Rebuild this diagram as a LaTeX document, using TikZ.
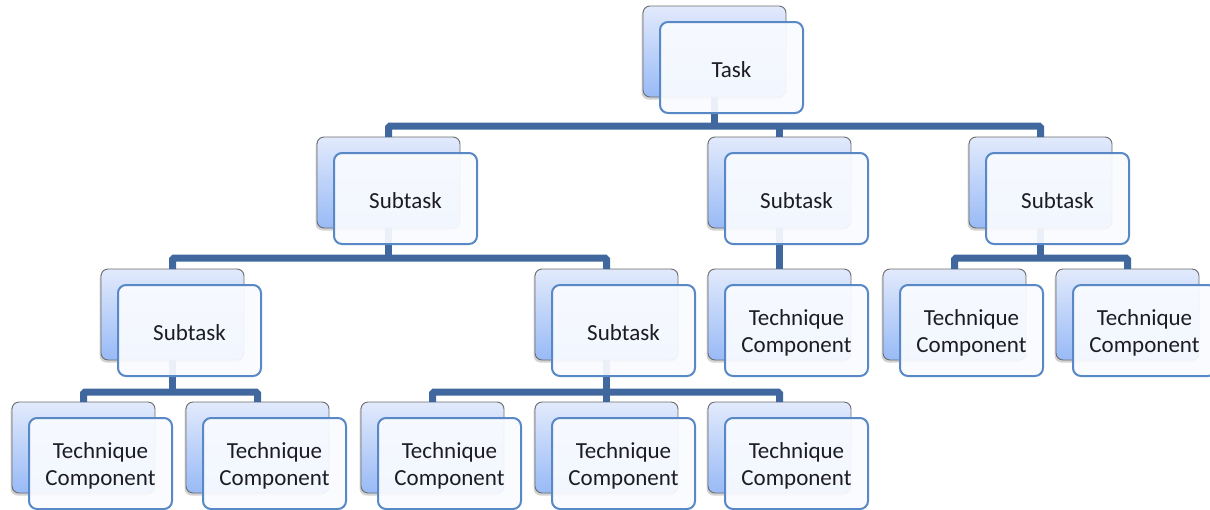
\documentclass[tikz,border=0pt]{standalone}
\usepackage{fontspec}
\setmainfont{Carlito}
\usetikzlibrary{shadows}

\definecolor{barblue}{RGB}{64,104,158}
\definecolor{frontline}{RGB}{88,136,198}
\definecolor{backline}{RGB}{108,108,112}
\definecolor{backtop}{RGB}{226,234,252}
\definecolor{backbottom}{RGB}{152,186,246}
\definecolor{frontfill}{RGB}{249,251,255}
\definecolor{labeltext}{RGB}{28,28,34}

\tikzset{
  backbox/.style={draw=backline, line width=0.9pt, rounded corners=7pt,
    top color=backtop, bottom color=backbottom,
    minimum width=143pt, minimum height=91pt, inner sep=0pt, outer sep=0pt,
    anchor=north west,
    drop shadow={shadow xshift=-1.5pt, shadow yshift=-2.5pt, opacity=0.35}},
  frontbox/.style={draw=frontline, line width=2pt, rounded corners=8pt,
    fill=frontfill, fill opacity=0.93, text opacity=1,
    minimum width=143pt, minimum height=91pt, inner sep=0pt, outer sep=0pt,
    anchor=north west, align=center, text=labeltext,
    font=\fontsize{23}{27}\selectfont},
  conn/.style={draw=barblue, line width=7pt, rounded corners=1.5pt}
}

% back plate of an entry: name, left, top
\newcommand\backplate[3]{\node[backbox] (#1) at (#2,#3) {};}
% front plate with its label: name, left, top, text
\newcommand\frontplate[4]{%
  \node[frontbox] (#1) at ({#2+17},{#3+16}) {};
  \node[align=center, text=labeltext, inner sep=0pt,
        font=\fontsize{23}{27}\selectfont] (#1-label) at ([yshift=-2pt]#1.center) {#4};}

\begin{document}
\begin{tikzpicture}[x=1pt, y=-1pt]
  \fill[white] (0,0) rectangle (1210,509);
  \useasboundingbox (0,0) rectangle (1210,509);

  % levels of the bars
  \coordinate (barA) at (0,126);
  \coordinate (barB) at (0,258);
  \coordinate (barC) at (0,392);

  % back plates
  \backplate{t}{643}{6}
  \backplate{s1}{317}{137}
  \backplate{s2}{708}{137}
  \backplate{s3}{969}{137}
  \backplate{s11}{101}{269}
  \backplate{s12}{535}{269}
  \backplate{c2}{708}{269}
  \backplate{c31}{883}{269}
  \backplate{c32}{1056}{269}
  \backplate{c111}{12}{402}
  \backplate{c112}{186}{402}
  \backplate{c121}{361}{402}
  \backplate{c122}{535}{402}
  \backplate{c123}{708}{402}

  % connectors
  \draw[conn] (t.south) -- (t.south |- barA);
  \draw[conn] (s1.north) |- (barA -| s3.north) -- (s3.north);
  \draw[conn] (s2.north) -- (s2.north |- barA);

  \draw[conn] (s1.south) -- (s1.south |- barB);
  \draw[conn] (s11.north) |- (barB -| s12.north) -- (s12.north);

  \draw[conn] (s2.south) -- (c2.north);

  \draw[conn] (s3.south) -- (s3.south |- barB);
  \draw[conn] (c31.north) |- (barB -| c32.north) -- (c32.north);

  \draw[conn] (s11.south) -- (s11.south |- barC);
  \draw[conn] (c111.north) |- (barC -| c112.north) -- (c112.north);

  \draw[conn] (s12.south) -- (s12.south |- barC);
  \draw[conn] (c121.north) |- (barC -| c123.north) -- (c123.north);
  \draw[conn] (c122.north) -- (c122.north |- barC);

  % front plates with labels
  \frontplate{ft}{643}{6}{Task}
  \frontplate{fs1}{317}{137}{Subtask}
  \frontplate{fs2}{708}{137}{Subtask}
  \frontplate{fs3}{969}{137}{Subtask}
  \frontplate{fs11}{101}{269}{Subtask}
  \frontplate{fs12}{535}{269}{Subtask}
  \frontplate{fc2}{708}{269}{Technique\\Component}
  \frontplate{fc31}{883}{269}{Technique\\Component}
  \frontplate{fc32}{1056}{269}{Technique\\Component}
  \frontplate{fc111}{12}{402}{Technique\\Component}
  \frontplate{fc112}{186}{402}{Technique\\Component}
  \frontplate{fc121}{361}{402}{Technique\\Component}
  \frontplate{fc122}{535}{402}{Technique\\Component}
  \frontplate{fc123}{708}{402}{Technique\\Component}
\end{tikzpicture}
\end{document}
